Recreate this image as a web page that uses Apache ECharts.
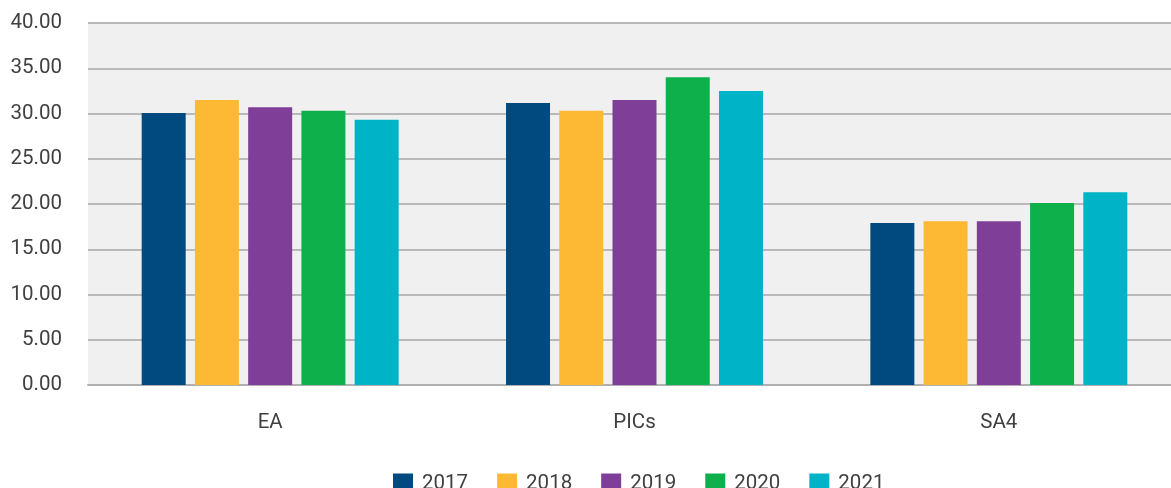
<!DOCTYPE html>
<html>
<head>
<meta charset="utf-8">
<script src="https://cdn.jsdelivr.net/npm/echarts@6/dist/echarts.min.js"></script>
<style>
  html, body { margin: 0; padding: 0; background: #fff; }
  #chart { width: 1171px; height: 488px; }
</style>
</head>
<body>
<div id="chart"></div>
<script>
// data
var categories = ['EA', 'PICs', 'SA4']
var years = ['2017', '2018', '2019', '2020', '2021']
var v2017 = [30.05, 31.15, 17.9]
var v2018 = [31.5, 30.3, 18.1]
var v2019 = [30.7, 31.5, 18.1]
var v2020 = [30.3, 34.0, 20.1]
var v2021 = [29.3, 32.5, 21.3]
var yTicks = { min: 0, max: 40, interval: 5 }

var colors = ['#014a7f', '#fdb933', '#7f3f98', '#0db04b', '#00b3c7']
var seriesValues = [v2017, v2018, v2019, v2020, v2021]

var chart = echarts.init(document.getElementById('chart'))
chart.setOption({
  animation: false,
  textStyle: { fontFamily: 'Roboto', color: '#404040' },
  // plot runs a bit past the right edge, like the original
  grid: {
    left: 88,
    width: 1093,
    top: 23,
    bottom: 103,
    outerBoundsMode: 'none',
    show: true,
    backgroundColor: '#f0f0f0',
    borderWidth: 0
  },
  legend: {
    data: years,
    top: 468,
    left: 388,
    itemWidth: 20,
    itemHeight: 20,
    itemGap: 29,
    icon: 'rect',
    textStyle: { fontSize: 20.5, color: '#404040', fontFamily: 'Roboto', padding: [0, 0, 0, 4] }
  },
  xAxis: {
    type: 'category',
    data: categories,
    axisTick: { show: false },
    axisLine: { lineStyle: { color: '#b0b0b0', width: 2 } },
    axisLabel: { fontSize: 20.5, color: '#404040', margin: 27 }
  },
  yAxis: {
    type: 'value',
    min: yTicks.min,
    max: yTicks.max,
    interval: yTicks.interval,
    axisLine: { show: false },
    axisTick: { show: false },
    axisLabel: {
      fontSize: 20.5,
      color: '#404040',
      margin: 26,
      formatter: function(v) { return v.toFixed(2) }
    },
    splitLine: { lineStyle: { color: '#b9b9b9', width: 2 } }
  },
  series: years.map(function(y, i) {
    return {
      name: y,
      type: 'bar',
      data: seriesValues[i],
      barWidth: 44,
      barGap: '21%',
      itemStyle: { color: colors[i] }
    }
  })
})
</script>
</body>
</html>
